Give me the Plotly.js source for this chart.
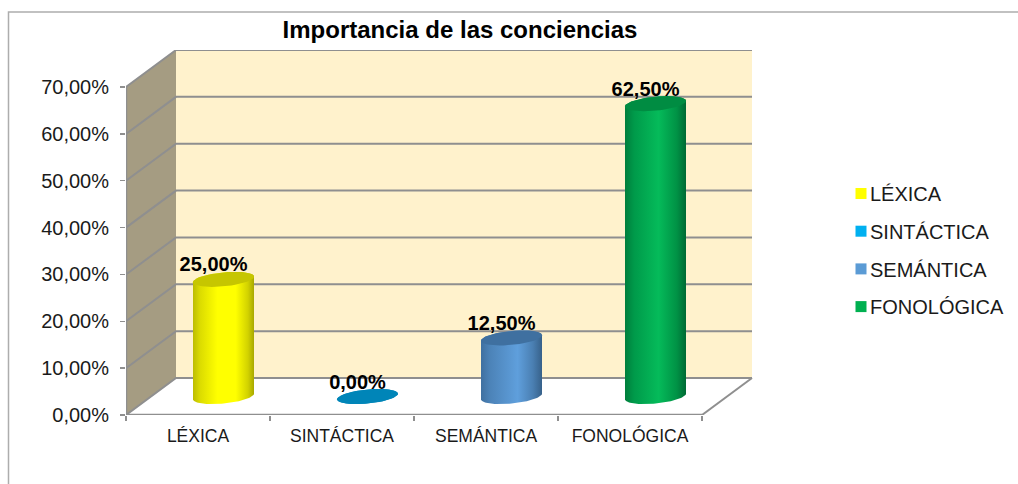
<!DOCTYPE html>
<html>
<head>
<meta charset="utf-8">
<script src="https://cdn.plot.ly/plotly-3.0.1.min.js"></script>
<style>html,body{margin:0;padding:0;background:#fff}#chart{width:1018px;height:484px}</style>
</head>
<body>
<div id="chart"></div>
<script>
const categories = ['LÉXICA', 'SINTÁCTICA', 'SEMÁNTICA', 'FONOLÓGICA'];
const values = [25, 0, 12.5, 62.5];
const valueLabels = ['25,00%', '0,00%', '12,50%', '62,50%'];
const yTicks = [0, 10, 20, 30, 40, 50, 60, 70];
const yTickLabels = ['0,00%', '10,00%', '20,00%', '30,00%', '40,00%', '50,00%', '60,00%', '70,00%'];
const legendColors = ['#ffff00', '#00b0f0', '#5b9bd5', '#00b050'];
const capColors = ['#c6c600', '#0085b8', '#3f70a0', '#008c42'];
const bodyScales = [
  [[0, '#bcbc00'], [0.12, '#dcdc00'], [0.4, '#ffff00'], [0.7, '#ffff00'], [0.9, '#d2d200'], [1, '#a8a800']],
  [[0, '#0085b8'], [1, '#0085b8']],
  [[0, '#3f70a0'], [0.15, '#4c83b8'], [0.6, '#5f9fdc'], [0.85, '#4a7fb2'], [1, '#37618a']],
  [[0, '#007e3c'], [0.15, '#009a4a'], [0.55, '#05bb5a'], [0.85, '#009245'], [1, '#006a34']]
];

// Projection of the 3D box, in data units
const pxX = 144, yMax = 77.9, pxY = 365 / yMax;
const xMin = -0.5, xLast = 3.5, xEnd = xMin + 627 / pxX;
const dX = 50 / pxX, dY = 37 / pxY;
const rA = 30.5 / pxX, rB = 7 / pxY, shear = 2.8 / pxY;
const GRID = '#8f8f8f', WALL = '#a59c82', BACK = '#fff2cc';

function poly(xs, ys, color) {
  return {x: xs, y: ys, mode: 'lines', fill: 'toself', fillcolor: color, line: {width: 0},
          hoverinfo: 'skip', showlegend: false, cliponaxis: false};
}
function seg(xs, ys, w) {
  return {x: xs, y: ys, mode: 'lines', line: {color: GRID, width: w || 2},
          hoverinfo: 'skip', showlegend: false, cliponaxis: false};
}
function arc(cx, cy, from, to) {
  const xs = [], ys = [];
  for (let i = 0; i <= 48; i++) {
    const t = from + (to - from) * i / 48;
    xs.push(cx + rA * Math.cos(t));
    ys.push(cy + rB * Math.sin(t) + shear * Math.cos(t));
  }
  return [xs, ys];
}

const traces = [];
// walls
traces.push(poly([xMin, xMin + dX, xMin + dX, xMin], [0, dY, 70 + dY, 70], WALL));
traces.push(poly([xMin + dX, xLast + dX, xLast + dX, xMin + dX], [dY, dY, 70 + dY, 70 + dY], BACK));
// gridlines
yTicks.forEach(v => {
  traces.push(seg([xMin, xMin + dX, xLast + dX], [v, v + dY, v + dY]));
});
// floor right edge and front axes
traces.push(seg([xLast, xLast + dX], [0, dY]));
traces.push(seg([xMin, xLast], [0, 0], 2.5));
traces.push(seg([xMin, xMin], [0, 70], 2.5));

// cylinders
values.forEach((v, i) => {
  const cx = i + dX / 2 + 0.5 / pxX, base = dY / 2, top = v + dY / 2;
  const low = arc(cx, base, Math.PI, 2 * Math.PI);
  const up = arc(cx, top, 0, Math.PI);
  const body = poly(low[0].concat(up[0]), low[1].concat(up[1]), bodyScales[i][0][1]);
  delete body.fillcolor;
  body.fillgradient = {type: 'horizontal', colorscale: bodyScales[i]};
  traces.push(body);
  const cap = arc(cx, top, 0, 2 * Math.PI);
  traces.push(poly(cap[0], cap[1], capColors[i]));
});

// value labels
traces.push({
  x: values.map((v, i) => i + dX / 2 - 9.5 / pxX),
  y: values.map(v => v + dY / 2 + 13 / pxY),
  text: valueLabels, mode: 'text', textposition: 'middle center',
  textfont: {family: 'Liberation Sans, Arial, sans-serif', size: 20, color: '#000', weight: 700},
  hoverinfo: 'skip', showlegend: false, cliponaxis: false
});

// legend entries
categories.forEach((c, i) => {
  traces.push({x: [null], y: [null], name: c, mode: 'markers', legendgroup: c,
               marker: {symbol: 'square', size: 11, color: legendColors[i]}});
});

const pX = x => (x - 126) / 627, pY = y => (415 - y) / 365;
const layout = {
  width: 1018, height: 484,
  paper_bgcolor: '#fff', plot_bgcolor: 'rgba(0,0,0,0)',
  margin: {l: 126, r: 265, t: 50, b: 69, autoexpand: false},
  font: {family: 'Liberation Sans, Arial, sans-serif', color: '#1a1a1a'},
  title: {text: '<b>Importancia de las conciencias</b>', font: {size: 24, color: '#000'},
          x: 460 / 1018, xref: 'container', xanchor: 'center', y: 1 - 30 / 484, yref: 'container', yanchor: 'middle'},
  xaxis: {
    range: [xMin, xEnd], showgrid: false, zeroline: false, showline: false,
    tickmode: 'array', tickvals: categories.map((c, i) => i), ticktext: categories,
    ticks: '', ticklabelstandoff: 8, tickangle: 0, tickfont: {size: 17.5},
    minor: {tickmode: 'array', tickvals: [-0.5, 0.5, 1.5, 2.5, 3.5], ticks: 'outside', ticklen: 5, tickcolor: GRID, tickwidth: 1.5, showgrid: false}
  },
  yaxis: {
    range: [0, yMax], showgrid: false, zeroline: false, showline: false,
    tickmode: 'array', tickvals: yTicks, ticktext: yTickLabels,
    ticks: 'outside', ticklen: 5, tickcolor: GRID, tickwidth: 1.5, ticklabelstandoff: 7, tickfont: {size: 20}
  },
  legend: {
    x: pX(841), y: pY(174), xanchor: 'left', yanchor: 'top', bgcolor: 'rgba(0,0,0,0)', borderwidth: 0,
    font: {size: 20}, traceorder: 'grouped', tracegroupgap: 8.7, indentation: -11
  },
  shapes: [{
    type: 'path', xref: 'paper', yref: 'paper', layer: 'below',
    path: `M ${pX(8.5)} ${pY(484)} L ${pX(8.5)} ${pY(12)} L ${pX(1018)} ${pY(12)}`,
    line: {color: '#adadad', width: 1.5}
  }],
  hovermode: false
};
Plotly.newPlot('chart', traces, layout, {displayModeBar: false, staticPlot: true}).then(() => {
  // the swatch sits right next to its label in the reference
  document.querySelectorAll('.legend .legendsymbols').forEach(g => g.setAttribute('transform', 'translate(11,0)'));
});
</script>
</body>
</html>
